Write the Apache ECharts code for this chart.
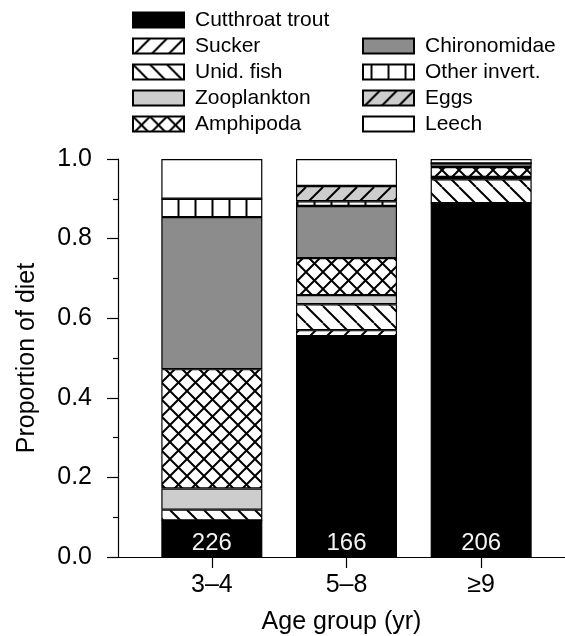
<!DOCTYPE html>
<html>
<head>
<meta charset="utf-8">
<script src="https://cdn.jsdelivr.net/npm/echarts@6/dist/echarts.min.js"></script>
<style>
html,body{margin:0;padding:0;background:#fff;}
#chart{width:565px;height:636px;}
</style>
</head>
<body>
<div id="chart"></div>
<script>
// ---- data ----
const categories = ['3–4', '5–8', '≥9'];
const sampleSizes = [226, 166, 206];
const cutthroat    = [0.092, 0.555, 0.889];
const sucker       = [0.000, 0.015, 0.000];
const unidFish     = [0.027, 0.065, 0.060];
const zooplankton  = [0.053, 0.023, 0.006];
const amphipoda    = [0.300, 0.093, 0.025];
const chironomidae = [0.382, 0.131, 0.009];
const otherInvert  = [0.046, 0.012, 0.000];
const eggs         = [0.000, 0.038, 0.000];
const leech        = [0.100, 0.068, 0.011];

// ---- patterns ----
function hatch(bg, type) {
  const s = 17, lw = 2;
  const c = document.createElement('canvas');
  c.width = s; c.height = s;
  const g = c.getContext('2d');
  g.fillStyle = bg; g.fillRect(0, 0, s, s);
  g.strokeStyle = '#000'; g.lineWidth = lw; g.lineCap = 'butt';
  g.beginPath();
  for (let k = -1; k <= 1; k++) {
    if (type === '/' || type === 'x') { g.moveTo(k * s, s); g.lineTo(k * s + s, 0); }
    if (type === '\\' || type === 'x') { g.moveTo(k * s, 0); g.lineTo(k * s + s, s); }
  }
  if (type === '|') { g.moveTo(s / 2, 0); g.lineTo(s / 2, s); }
  g.stroke();
  return { image: c, repeat: 'repeat' };
}

const seriesDefs = [
  ['Cutthroat trout', cutthroat, '#000000'],
  ['Sucker', sucker, hatch('#ffffff', '/')],
  ['Unid. fish', unidFish, hatch('#ffffff', '\\')],
  ['Zooplankton', zooplankton, '#cdcdcd'],
  ['Amphipoda', amphipoda, hatch('#ffffff', 'x')],
  ['Chironomidae', chironomidae, '#8c8c8c'],
  ['Other invert.', otherInvert, hatch('#ffffff', '|')],
  ['Eggs', eggs, hatch('#cdcdcd', '/')],
  ['Leech', leech, '#ffffff']
];

const FONT = 'Liberation Sans, Arial, Helvetica, sans-serif';
const AX = { color: '#000', width: 1.2 };

const series = seriesDefs.map(([name, vals, color], i) => ({
  name: name,
  type: 'bar',
  stack: 'diet',
  barWidth: 101,
  xAxisIndex: 0, yAxisIndex: 0,
  data: vals,
  itemStyle: { color: color, borderColor: '#000', borderWidth: 1.2 },
  emphasis: { disabled: true },
  label: i === 0 ? {
    show: true,
    position: 'insideBottom',
    distance: 2,
    color: '#f2f2f2',
    fontFamily: FONT,
    fontSize: 24,
    formatter: p => String(sampleSizes[p.dataIndex])
  } : { show: false }
}));

const legendCommon = {
  orient: 'vertical',
  itemWidth: 51,
  itemHeight: 15,
  itemGap: 5,
  icon: 'rect',
  selectedMode: false,
  textStyle: { fontFamily: FONT, fontSize: 21, color: '#000', lineHeight: 21, padding: [0, 0, 0, 6] }
};

const chart = echarts.init(document.getElementById('chart'), null, { renderer: 'canvas' });
chart.setOption({
  animation: false,
  backgroundColor: '#fff',
  legend: [
    Object.assign({}, legendCommon, {
      left: 127, top: 4.5,
      data: ['Cutthroat trout', 'Sucker', 'Unid. fish', 'Zooplankton', 'Amphipoda']
    }),
    Object.assign({}, legendCommon, {
      left: 357, top: 30.5,
      data: ['Chironomidae', 'Other invert.', 'Eggs', 'Leech']
    })
  ],
  grid: [
    { left: 144.5, right: 16.5, top: 159, bottom: 79, containLabel: false, outerBoundsMode: 'none' },
    { left: 118, right: 0, top: 159, bottom: 79, containLabel: false, outerBoundsMode: 'none' }
  ],
  xAxis: [
    {
      type: 'category',
      gridIndex: 0,
      data: categories,
      boundaryGap: true,
      axisLine: { show: false },
      axisTick: { show: true, alignWithLabel: true, length: 11, inside: false, lineStyle: AX },
      axisLabel: { margin: 16, fontFamily: FONT, fontSize: 25, color: '#000' },
      splitLine: { show: false }
    },
    {
      type: 'value',
      gridIndex: 1,
      min: 0, max: 1,
      name: 'Age group (yr)',
      nameLocation: 'middle',
      nameGap: 53,
      nameTextStyle: { fontFamily: FONT, fontSize: 25, color: '#000' },
      axisLine: { show: true, onZero: false, lineStyle: AX },
      axisTick: { show: false },
      axisLabel: { show: false },
      splitLine: { show: false }
    }
  ],
  yAxis: [
    {
      type: 'value',
      gridIndex: 0,
      min: 0, max: 1, interval: 0.2,
      offset: 26.5,
      name: 'Proportion of diet',
      nameLocation: 'middle',
      nameGap: 78,
      nameTextStyle: { fontFamily: FONT, fontSize: 25, color: '#000' },
      axisLine: { show: true, lineStyle: AX },
      axisTick: { show: true, length: 11, inside: false, lineStyle: AX },
      minorTick: { show: true, splitNumber: 2, length: 5, lineStyle: AX },
      axisLabel: {
        margin: 26,
        fontFamily: FONT, fontSize: 25, color: '#000',
        formatter: v => v.toFixed(1)
      },
      splitLine: { show: false }
    },
    {
      type: 'value',
      gridIndex: 1,
      min: 0, max: 1,
      show: false
    }
  ],
  series: series
});
</script>
</body>
</html>
